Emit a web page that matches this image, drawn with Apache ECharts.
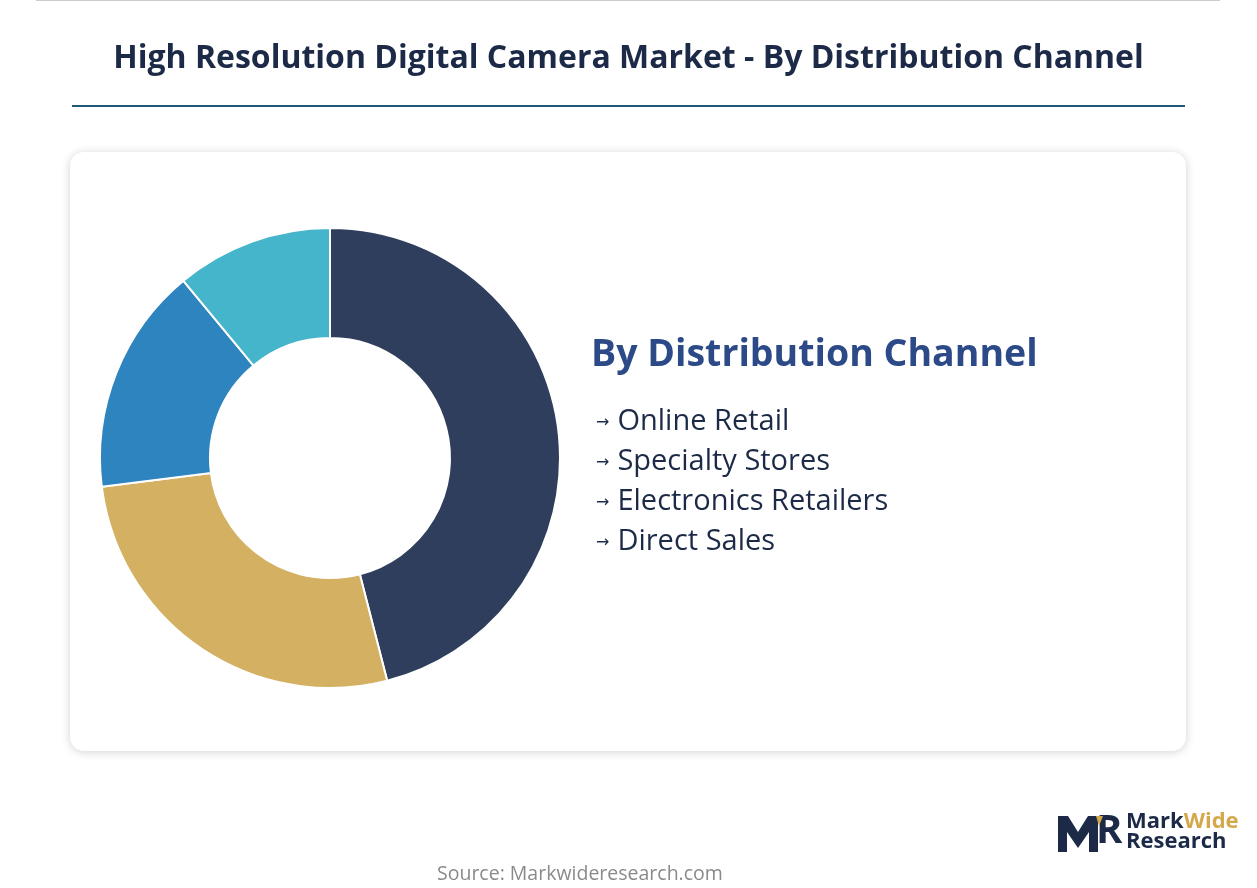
<!DOCTYPE html>
<html>
<head>
<meta charset="utf-8">
<script src="https://cdn.jsdelivr.net/npm/echarts@6/dist/echarts.min.js"></script>
<style>
html,body{margin:0;padding:0;background:#ffffff;}
#chart{width:1257px;height:888px;}
</style>
</head>
<body>
<div id="chart"></div>
<script>
const chartTitle = 'High Resolution Digital Camera Market - By Distribution Channel';
const legendTitle = 'By Distribution Channel';
const categories = ['Online Retail', 'Specialty Stores', 'Electronics Retailers', 'Direct Sales'];
const shares = [46, 27, 16, 11];
const colors = ['#2e3e5c', '#d3b062', '#2e84bf', '#45b5cc'];
const sourceText = 'Source: Markwideresearch.com';

const chart = echarts.init(document.getElementById('chart'), null, {renderer: 'canvas'});
const font = '"Open Sans", "Noto Sans", sans-serif';

chart.setOption({
  backgroundColor: '#ffffff',
  animation: false,
  title: [
    {
      text: chartTitle,
      left: 'center', top: 38,
      textStyle: {fontFamily: font, fontWeight: 'bold', fontSize: 32, color: '#1c2a48'}
    },
    {
      text: legendTitle,
      left: 586, top: 331,
      textStyle: {fontFamily: font, fontWeight: 'bold', fontSize: 37.5, color: '#2c4a88'}
    },
    {
      text: sourceText,
      left: 432, top: 859,
      textStyle: {fontFamily: font, fontWeight: 'normal', fontSize: 19.5, color: '#8a8a8a'}
    }
  ],
  graphic: [
    {type: 'line', shape: {x1: 36, y1: 0.5, x2: 1220, y2: 0.5}, style: {stroke: '#cccccc', lineWidth: 1}},
    {type: 'line', shape: {x1: 72, y1: 106, x2: 1185, y2: 106}, style: {stroke: '#1f5876', lineWidth: 2}},
    {type: 'rect', z: -10, shape: {x: 70, y: 152, width: 1116, height: 599, r: 14},
     style: {fill: '#ffffff', shadowBlur: 10, shadowColor: 'rgba(0,0,0,0.18)', shadowOffsetX: 0, shadowOffsetY: 1}},
    // logo
    {type: 'polygon', shape: {points: [[1058,852],[1058,816],[1068,816],[1078,832],[1088,816],[1098,816],[1098,852],[1089,852],[1089,832],[1078,848],[1067,832],[1067,852]]},
     style: {fill: '#1c2a48'}},
    {type: 'text', left: 1096, top: 812, style: {text: 'R', font: 'bold 40px ' + font, fill: '#1c2a48'}},
    {type: 'polygon', shape: {points: [[1096,816],[1103,816],[1099,826]]}, style: {fill: '#d4a84a'}},
    {type: 'text', left: 1126, top: 811, style: {rich: {m: {font: 'bold 22px ' + font, fill: '#1c2a48'}, w: {font: 'bold 22px ' + font, fill: '#d4a84a'}}, text: '{m|Mark}{w|Wide}'}},
    {type: 'text', left: 1126, top: 831, style: {text: 'Research', font: 'bold 22px ' + font, fill: '#1c2a48'}}
  ],
  legend: {
    orient: 'vertical',
    left: 586, top: 402,
    icon: 'none',
    itemWidth: 0, itemHeight: 0,
    itemGap: 11,
    selectedMode: false,
    data: categories,
    formatter: name => '{a|→}{b|' + name + '}',
    textStyle: {
      rich: {
        a: {fontFamily: '"DejaVu Sans", sans-serif', fontSize: 16, color: '#1c2a48', lineHeight: 30, padding: [2, 8, 0, 0]},
        b: {fontFamily: font, fontSize: 29, color: '#1c2a48', lineHeight: 30}
      }
    }
  },
  series: [{
    type: 'pie',
    center: [330, 458],
    radius: [120, 230],
    startAngle: 90,
    clockwise: true,
    label: {show: false},
    labelLine: {show: false},
    itemStyle: {borderColor: '#ffffff', borderWidth: 2},
    emphasis: {disabled: true},
    data: categories.map((c, i) => ({name: c, value: shares[i], itemStyle: {color: colors[i]}}))
  }]
});
</script>
</body>
</html>
